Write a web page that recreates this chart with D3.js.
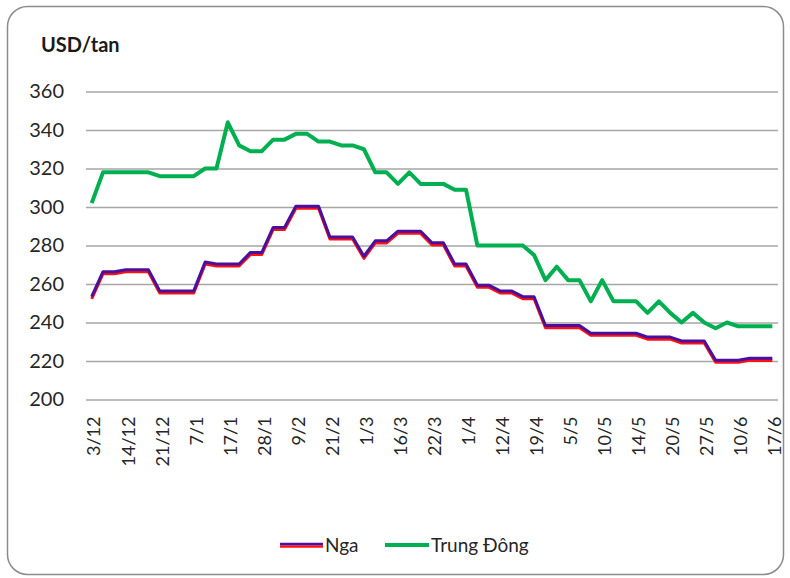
<!DOCTYPE html>
<html>
<head>
<meta charset="utf-8">
<script src="https://cdn.jsdelivr.net/npm/d3@7"></script>
<style>
  body { margin: 0; background: #ffffff; }
</style>
</head>
<body>
<script>
var canvasWidth = 790;
var canvasHeight = 578;
var margin = { top: 91.5, right: 12, bottom: 178.5, left: 86 };

// tick labels, one every third weekly observation
var tickLabels = ["3/12", "14/12", "21/12", "7/1", "17/1", "28/1", "9/2", "21/2", "1/3", "16/3",
                  "22/3", "1/4", "12/4", "19/4", "5/5", "10/5", "14/5", "20/5", "27/5", "10/6", "17/6"];

var nga = [253, 266, 266, 267, 267, 267, 256, 256, 256, 256,
           271, 270, 270, 270, 276, 276, 289, 289, 300, 300,
           300, 284, 284, 284, 274, 282, 282, 287, 287, 287,
           281, 281, 270, 270, 259, 259, 256, 256, 253, 253,
           238, 238, 238, 238, 234, 234, 234, 234, 234, 232,
           232, 232, 230, 230, 230, 220, 220, 220, 221, 221, 221];

var trungDong = [302, 318, 318, 318, 318, 318, 316, 316, 316, 316,
                 320, 320, 344, 332, 329, 329, 335, 335, 338, 338,
                 334, 334, 332, 332, 330, 318, 318, 312, 318, 312,
                 312, 312, 309, 309, 280, 280, 280, 280, 280, 275,
                 262, 269, 262, 262, 251, 262, 251, 251, 251, 245,
                 251, 245, 240, 245, 240, 237, 240, 238, 238, 238, 238];

var yTicks = [200, 220, 240, 260, 280, 300, 320, 340, 360];

var svg = d3.select("body").append("svg")
    .attr("width", canvasWidth)
    .attr("height", canvasHeight)

// rounded frame
svg.append("rect")
    .attr("x", 7.5)
    .attr("y", 6.5)
    .attr("width", 776)
    .attr("height", 568)
    .attr("rx", 20)
    .attr("fill", "#ffffff")
    .attr("stroke", "#8c8c8c")
    .attr("stroke-width", 1.5)

var width = canvasWidth - margin.left - margin.right;
var height = canvasHeight - margin.top - margin.bottom;

var xScale = d3.scalePoint().domain(d3.range(nga.length)).range([0, width]).padding(0.5);
var yScale = d3.scaleLinear().domain([200, 360]).range([height, 0]);

var g = svg.append("g")
    .attr("transform", "translate(" + margin.left + "," + margin.top + ")")

svg.append("text")
    .attr("x", 41)
    .attr("y", 52)
    .attr("font-family", "Lato, sans-serif")
    .attr("font-weight", "bold")
    .attr("font-size", "20px")
    .attr("fill", "#1a1a1a")
    .text("USD/tan")

// Y axis with gridlines
var yAxis = g.append("g")
    .call(d3.axisLeft(yScale).tickValues(yTicks).tickSize(-width).tickPadding(22))
yAxis.select(".domain").remove()
yAxis.selectAll(".tick line")
    .attr("stroke", "#a6a6a6")
    .attr("stroke-width", 1.5)
yAxis.selectAll(".tick text")
    .attr("font-family", "Lato, sans-serif")
    .attr("font-size", "20px")
    .attr("fill", "#262626")

// X axis, rotated labels
var xAxis = g.append("g")
    .attr("transform", "translate(0," + height + ")")
    .call(d3.axisBottom(xScale)
        .tickValues(d3.range(0, nga.length, 3))
        .tickSize(0)
        .tickFormat(function(d) { return tickLabels[d / 3]; }))
xAxis.select(".domain").remove()
xAxis.selectAll(".tick text")
    .attr("font-family", "Lato, sans-serif")
    .attr("font-size", "18px")
    .attr("fill", "#262626")
    .attr("text-anchor", "end")
    .attr("dy", "0.35em")
    .attr("transform", "translate(2,17) rotate(-90)")
    .attr("x", 0)
    .attr("y", 0)

var line = d3.line()
    .x(function(d, i) { return xScale(i); })
    .y(function(d) { return yScale(d); })

g.append("path")
    .datum(trungDong)
    .attr("d", line)
    .attr("fill", "none")
    .attr("stroke", "#00b050")
    .attr("stroke-width", 4)
    .attr("stroke-linejoin", "round")

// Nga: red underside, violet top
g.append("path")
    .datum(nga)
    .attr("d", line)
    .attr("transform", "translate(0,1.3)")
    .attr("fill", "none")
    .attr("stroke", "#ff1010")
    .attr("stroke-width", 3)
    .attr("stroke-linejoin", "round")
g.append("path")
    .datum(nga)
    .attr("d", line)
    .attr("transform", "translate(0,-0.8)")
    .attr("fill", "none")
    .attr("stroke", "#4a0f9e")
    .attr("stroke-width", 3)
    .attr("stroke-linejoin", "round")

// legend
var legend = svg.append("g")
legend.append("line")
    .attr("x1", 280).attr("x2", 323).attr("y1", 546.5).attr("y2", 546.5)
    .attr("stroke", "#ff1010").attr("stroke-width", 2.5)
legend.append("line")
    .attr("x1", 280).attr("x2", 323).attr("y1", 544).attr("y2", 544)
    .attr("stroke", "#4a0f9e").attr("stroke-width", 2.5)
legend.append("text")
    .attr("x", 325).attr("y", 552)
    .attr("font-family", "Lato, sans-serif").attr("font-size", "19px").attr("fill", "#262626")
    .text("Nga")
legend.append("line")
    .attr("x1", 385).attr("x2", 429).attr("y1", 545).attr("y2", 545)
    .attr("stroke", "#00b050").attr("stroke-width", 4)
legend.append("text")
    .attr("x", 431).attr("y", 552)
    .attr("font-family", "Lato, sans-serif").attr("font-size", "19px").attr("fill", "#262626")
    .text("Trung Đông")
</script>
</body>
</html>
